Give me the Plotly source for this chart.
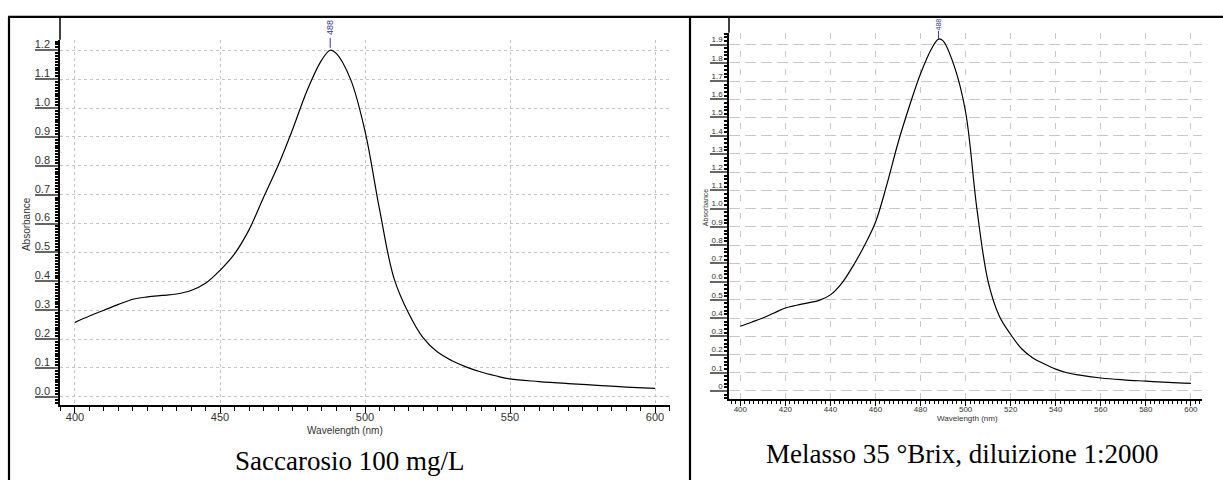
import plotly.graph_objects as go

# Saccarosio 100 mg/L
sac_nm = [400, 405, 410, 415, 420, 425, 430, 435, 440, 445, 450, 455, 460, 465, 470,
          475, 480, 485, 488, 490, 495, 500, 505, 510, 515, 520, 525, 530, 535, 540,
          545, 550, 560, 570, 580, 590, 600]
sac_abs = [0.258, 0.28, 0.30, 0.32, 0.338, 0.346, 0.351, 0.356, 0.368, 0.393, 0.438, 0.495,
           0.578, 0.69, 0.80, 0.925, 1.06, 1.165, 1.20, 1.19, 1.10, 0.92, 0.65, 0.41, 0.29,
           0.205, 0.155, 0.125, 0.103, 0.086, 0.073, 0.062, 0.053, 0.046, 0.040, 0.034, 0.029]

# Melasso 35 °Brix, diluizione 1:2000
mel_nm = [400, 405, 410, 415, 420, 425, 430, 435, 440, 445, 450, 455, 460, 465, 470,
          475, 480, 485, 488, 490, 495, 500, 505, 510, 515, 520, 525, 530, 535, 540,
          545, 550, 560, 570, 580, 590, 600]
mel_abs = [0.355, 0.377, 0.40, 0.428, 0.455, 0.47, 0.483, 0.497, 0.527, 0.59, 0.685, 0.795,
           0.925, 1.13, 1.36, 1.56, 1.74, 1.88, 1.93, 1.92, 1.78, 1.53, 1.0, 0.60, 0.41,
           0.31, 0.23, 0.18, 0.148, 0.12, 0.10, 0.088, 0.071, 0.061, 0.054, 0.047, 0.042]

captions = ['Saccarosio 100 mg/L', 'Melasso 35 °Brix, diluizione 1:2000']

W, H = 1223, 480
SANS = 'Liberation Sans'
SERIF = 'Liberation Serif'


def px(x):
    return x / W


def py(y):
    return 1 - y / H


fig = go.Figure()
fig.add_trace(go.Scatter(x=sac_nm, y=sac_abs, mode='lines', line=dict(color='black', width=1.2, shape='spline'),
                         xaxis='x', yaxis='y', showlegend=False))
fig.add_trace(go.Scatter(x=mel_nm, y=mel_abs, mode='lines', line=dict(color='black', width=1.2, shape='spline'),
                         xaxis='x2', yaxis='y2', showlegend=False))

common_x = dict(showline=True, linecolor='black', linewidth=1.5, zeroline=False, ticks='outside',
                tickcolor='black', mirror=False)
common_y = dict(showline=True, linecolor='black', linewidth=1.5, zeroline=False, ticks='outside',
                tickcolor='#666', tickwidth=2, mirror=False)

fig.update_layout(
    width=W, height=H, margin=dict(l=0, r=0, t=0, b=0),
    paper_bgcolor='white', plot_bgcolor='white',
    xaxis=dict(common_x, domain=[px(60), px(670)], range=[394.83, 605.17], anchor='y',
               tickvals=[400, 450, 500, 550, 600], ticklen=6, tickwidth=1,
               minor=dict(dtick=5, tick0=400, ticklen=4, ticks='outside', tickcolor='black', showgrid=False),
               showgrid=True, gridcolor='#c4c4c4', griddash='dot', gridwidth=1,
               tickfont=dict(family=SANS, size=11, color='#333'), ticklabelstandoff=-5),
    yaxis=dict(common_y, domain=[py(405), py(38)], range=[-0.0293, 1.236], anchor='x',
               tickvals=[i / 10 for i in range(13)], tickformat='.1f', ticklen=23,
               minor=dict(dtick=0.01, tick0=0, ticklen=3, ticks='outside', tickcolor='black', showgrid=False),
               showgrid=True, gridcolor='#c4c4c4', griddash='dot', gridwidth=1,
               tickfont=dict(family=SANS, size=11, color='#333'), ticklabelstandoff=-17, ticklabelshift=-6),
    xaxis2=dict(common_x, domain=[px(729), px(1202)], range=[394.98, 604.93], anchor='y2',
                tickvals=list(range(400, 601, 20)), ticklen=5, tickwidth=1,
                minor=dict(dtick=2, tick0=400, ticklen=3, ticks='outside', tickcolor='black', showgrid=False),
                showgrid=True, gridcolor='#c8c8c8', griddash='6px,12px', gridwidth=1,
                tickfont=dict(family=SANS, size=8, color='#333'), ticklabelstandoff=-4),
    yaxis2=dict(common_y, domain=[py(399), py(31)], range=[-0.0459, 1.964], anchor='x2',
                tickvals=[i / 10 for i in range(20)], ticktext=['0'] + [f'{i / 10:.1f}' for i in range(1, 20)],
                ticklen=17,
                minor=dict(dtick=0.02, tick0=0, ticklen=3, ticks='outside', tickcolor='black', showgrid=False),
                showgrid=True, gridcolor='#c8c8c8', griddash='11px,5px', gridwidth=1,
                tickfont=dict(family=SANS, size=8, color='#333'), ticklabelstandoff=-14, ticklabelshift=-5),
)

# table borders and axis-line extensions
shapes = [
    dict(type='line', xref='paper', yref='paper', x0=px(8), x1=1, y0=py(15), y1=py(15),
         line=dict(color='black', width=2.2)),
    dict(type='line', xref='paper', yref='paper', x0=px(9), x1=px(9), y0=py(15), y1=0,
         line=dict(color='black', width=2.2)),
    dict(type='line', xref='paper', yref='paper', x0=px(690), x1=px(690), y0=py(15), y1=0,
         line=dict(color='black', width=2.2)),
    dict(type='line', xref='paper', yref='paper', x0=px(60), x1=px(60), y0=py(15), y1=py(38),
         line=dict(color='black', width=1.5)),
    dict(type='line', xref='paper', yref='paper', x0=px(729), x1=px(729), y0=py(15), y1=py(31),
         line=dict(color='black', width=1.5)),
]

annotations = []

# peak markers (stem from the peak up to the label, label centred above)
for nm, ab, xr, top, stem, mid, fs in [(sac_nm, sac_abs, 'x', 36, 10, 26, 9),
                                       (mel_nm, mel_abs, 'x2', 29, 8, 23, 7)]:
    i = ab.index(max(ab))
    pk_x = nm[i]
    shapes.append(dict(type='line', xref=xr, yref='paper', x0=pk_x, x1=pk_x,
                       y0=py(top + stem), y1=py(top), line=dict(color='#33339a', width=1)))
    annotations.append(dict(x=pk_x, y=py(mid), xref=xr, yref='paper', text=str(pk_x), textangle=-90,
                            showarrow=False, xanchor='center', yanchor='middle',
                            font=dict(family=SANS, size=fs, color='#33339a')))

# axis titles and captions
for x, y, text, angle, fam, size, col in [
    (26, 223, 'Absorbance', -90, SANS, 10, '#333'),
    (345, 430, 'Wavelength (nm)', 0, SANS, 10, '#333'),
    (705, 207, 'Absorbance', -90, SANS, 7, '#333'),
    (967, 418, 'Wavelength (nm)', 0, SANS, 8, '#333'),
    (349, 461, captions[0], 0, SERIF, 27, 'black'),
    (962, 454, captions[1], 0, SERIF, 27, 'black'),
]:
    annotations.append(dict(x=px(x), y=py(y), xref='paper', yref='paper', text=text, textangle=angle,
                            showarrow=False, xanchor='center', yanchor='middle',
                            font=dict(family=fam, size=size, color=col)))

fig.update_layout(shapes=shapes, annotations=annotations)
fig.write_html('out.html', config={'displayModeBar': False},
               post_script="document.body.style.margin='0';")
